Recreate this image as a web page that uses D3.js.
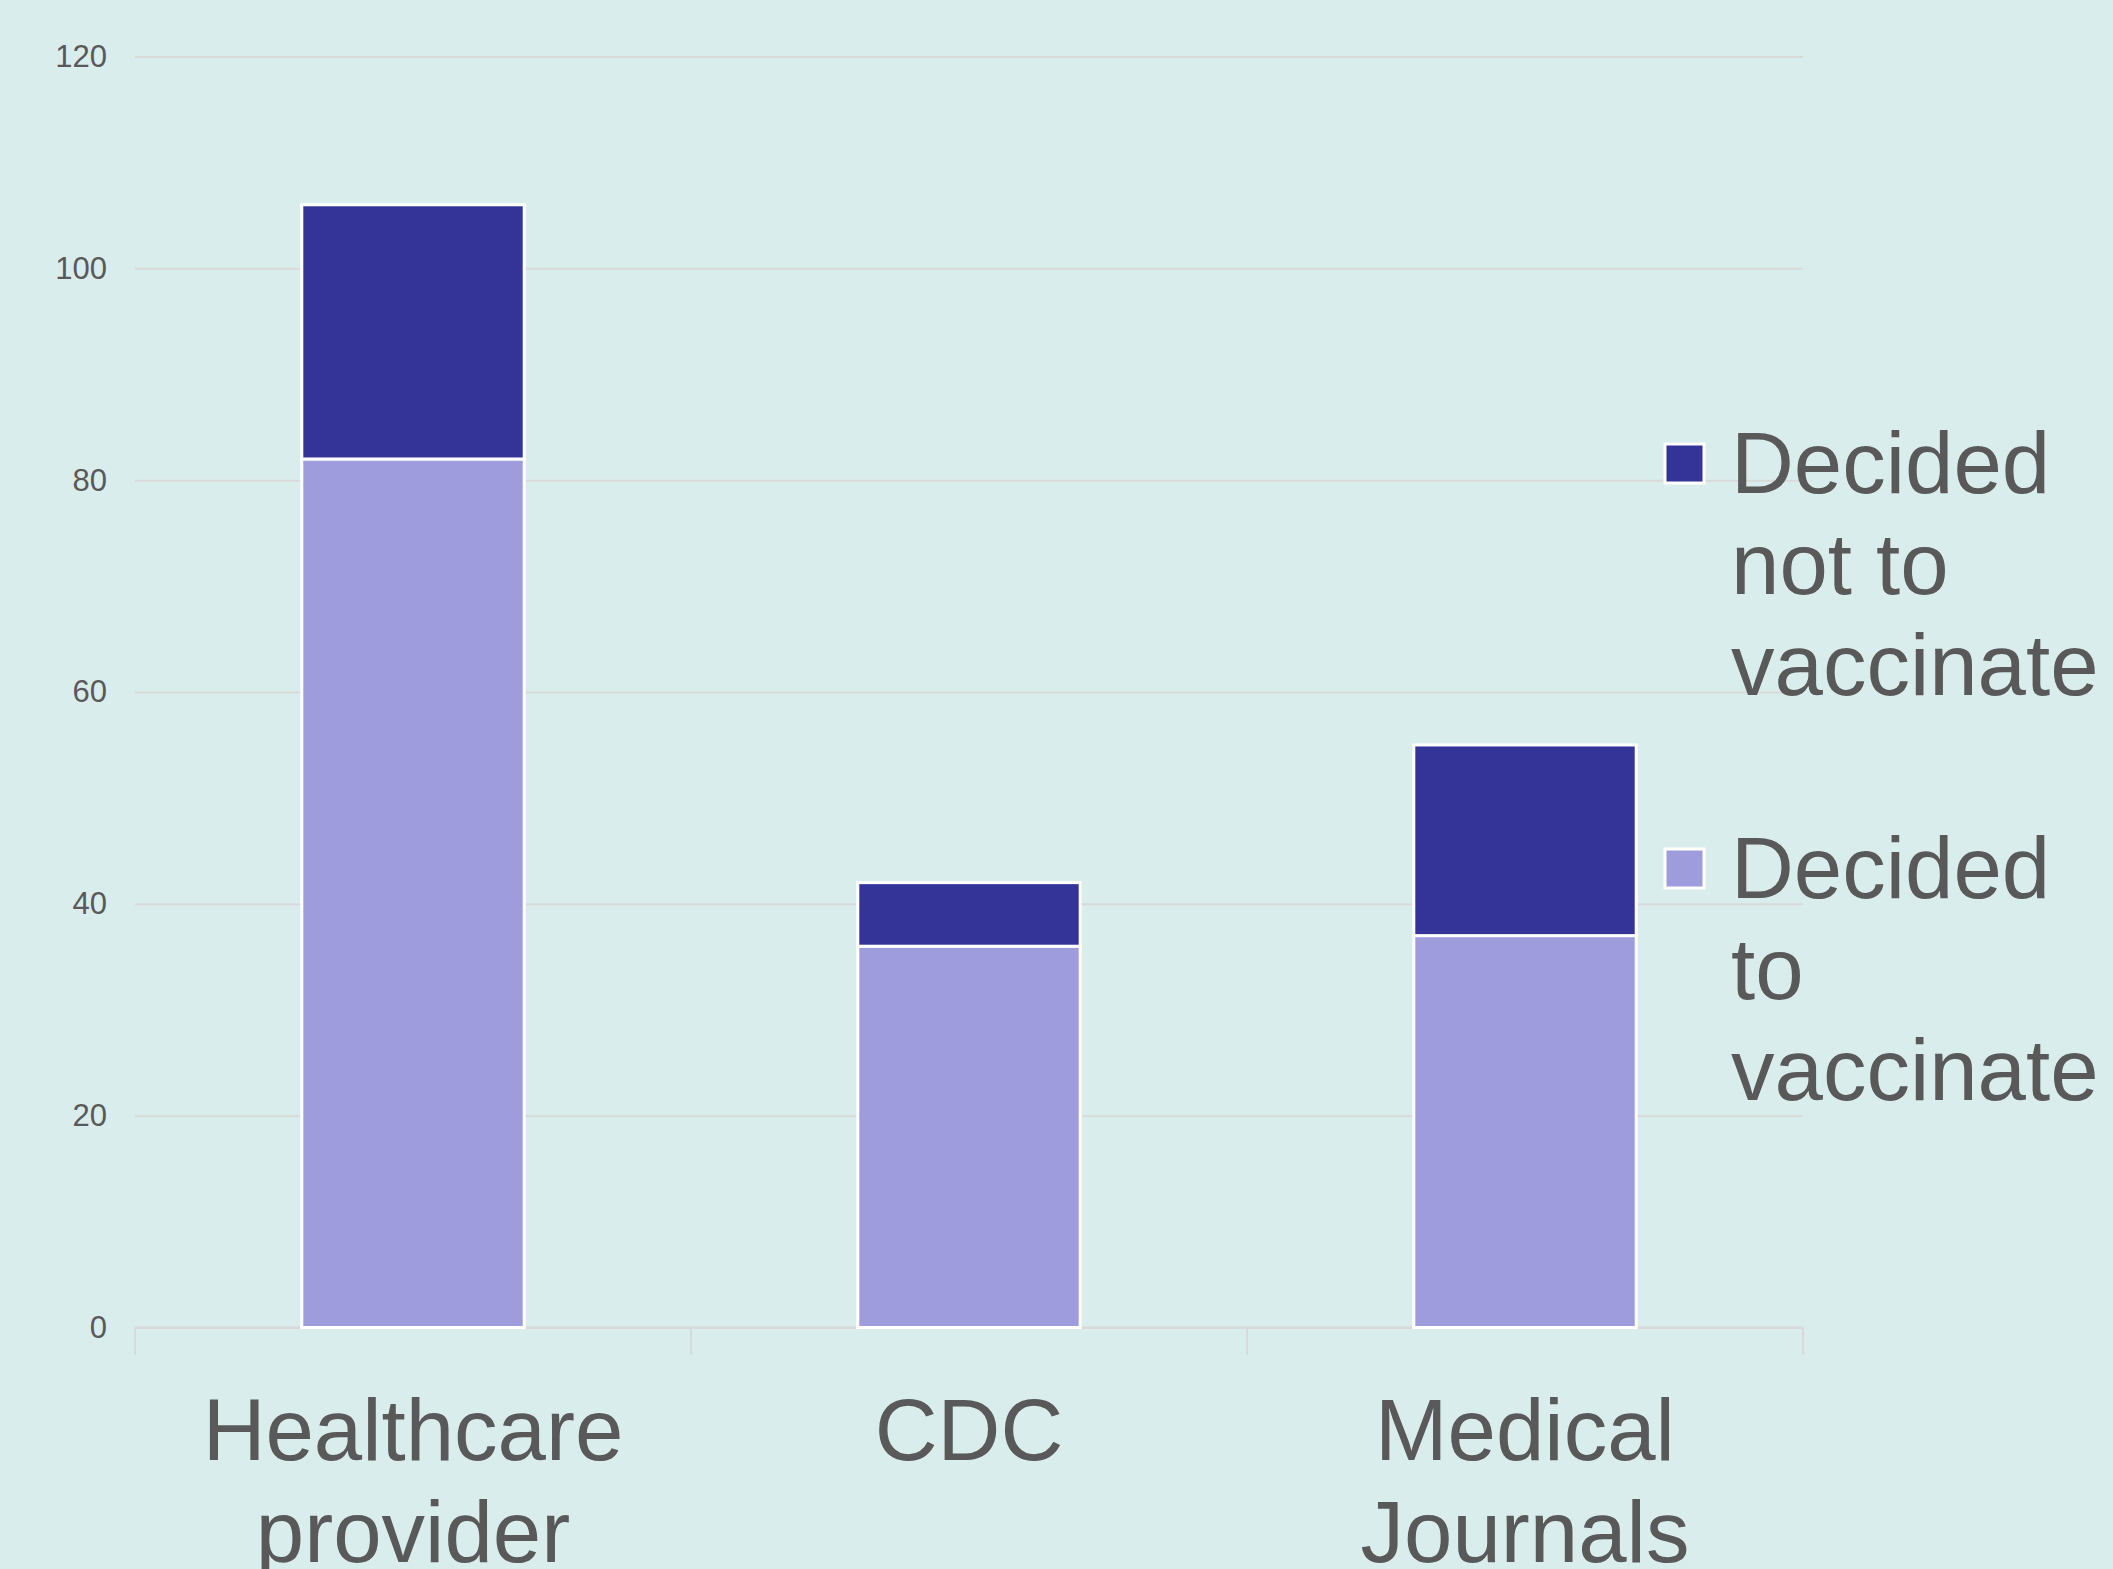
<!DOCTYPE html>
<html lang="en">
<head>
<meta charset="UTF-8">
<title>Vaccination decision by information source</title>
<script src="https://cdn.jsdelivr.net/npm/d3@7"></script>
<style>
  html, body { margin: 0; padding: 0; background: #daeded; }
  svg { display: block; font-family: "Liberation Sans", Arial, sans-serif; }
</style>
</head>
<body>
<script>
// data
var categories = [['Healthcare', 'provider'], ['CDC'], ['Medical', 'Journals']];
var seriesNames = ['Decided to vaccinate', 'Decided not to vaccinate'];
var decidedTo = [82, 36, 37];
var decidedNot = [24, 6, 18];
var yTicks = [0, 20, 40, 60, 80, 100, 120];
var colors = ['#9e9cdd', '#343398'];

var width = 2113, height = 1569;
var margin = { top: 56.5, right: 310, bottom: 241.5, left: 135 };
var plotW = width - margin.left - margin.right;
var plotH = height - margin.top - margin.bottom;

var svg = d3.select('body').append('svg')
    .attr('width', width)
    .attr('height', height);

svg.append('rect').attr('width', width).attr('height', height).attr('fill', '#daeded');

var keys = categories.map(function(c) { return c.join(' '); });
var rows = keys.map(function(k, i) {
    return { cat: k, to: decidedTo[i], not: decidedNot[i] };
});

var x = d3.scaleBand()
    .domain(keys)
    .range([margin.left, margin.left + plotW])
    .paddingInner(0.6)
    .paddingOuter(0.3);

var y = d3.scaleLinear()
    .domain([0, 120])
    .range([margin.top + plotH, margin.top]);

// gridlines
svg.append('g')
    .attr('transform', 'translate(' + margin.left + ',0)')
    .call(d3.axisLeft(y).tickValues(yTicks).tickSize(-plotW).tickFormat(''))
    .call(function(g) {
        g.select('.domain').remove();
        g.selectAll('line').attr('stroke', '#d9d9d9').attr('stroke-width', 2);
    });

// y tick labels
svg.append('g')
    .attr('transform', 'translate(' + margin.left + ',0)')
    .call(d3.axisLeft(y).tickValues(yTicks).tickSize(0).tickPadding(28))
    .call(function(g) {
        g.select('.domain').remove();
        g.selectAll('text')
            .attr('fill', '#595959')
            .attr('font-size', '31px')
            .attr('font-family', '"Liberation Sans", Arial, sans-serif');
    });

// x axis line and ticks between the categories
var y0 = y(0);
svg.append('line')
    .attr('x1', margin.left).attr('x2', margin.left + plotW)
    .attr('y1', y0).attr('y2', y0)
    .attr('stroke', '#d9d9d9').attr('stroke-width', 2);

var bounds = keys.map(function(k) { return x(k) - x.step() * x.paddingOuter(); });
bounds.push(margin.left + plotW);
svg.selectAll('.xtick')
    .data(bounds)
    .enter()
    .append('line')
    .attr('x1', function(d) { return d; })
    .attr('x2', function(d) { return d; })
    .attr('y1', y0)
    .attr('y2', y0 + 27)
    .attr('stroke', '#d9d9d9')
    .attr('stroke-width', 2);

// stacked bars
var stack = d3.stack().keys(['to', 'not']);
var layers = stack(rows);

svg.selectAll('.layer')
    .data(layers)
    .enter()
    .append('g')
    .attr('fill', function(d, i) { return colors[i]; })
    .selectAll('rect')
    .data(function(d) { return d; })
    .enter()
    .append('rect')
    .attr('x', function(d) { return x(d.data.cat); })
    .attr('y', function(d) { return y(d[1]); })
    .attr('width', x.bandwidth())
    .attr('height', function(d) { return y(d[0]) - y(d[1]); })
    .attr('stroke', '#ffffff')
    .attr('stroke-width', 3);

// category labels
var catLabels = svg.selectAll('.cat')
    .data(categories)
    .enter()
    .append('text')
    .attr('text-anchor', 'middle')
    .attr('fill', '#595959')
    .attr('font-size', '87px')
    .attr('x', function(d, i) { return x(keys[i]) + x.bandwidth() / 2; })
    .attr('y', 1460);

catLabels.selectAll('tspan')
    .data(function(d) { return d; })
    .enter()
    .append('tspan')
    .attr('x', function() { return d3.select(this.parentNode).attr('x'); })
    .attr('dy', function(d, i) { return i === 0 ? 0 : 102; })
    .text(function(d) { return d; });

// legend
var legendItems = [
    { lines: ['Decided', 'not to', 'vaccinate'], color: colors[1], top: 493 },
    { lines: ['Decided', 'to', 'vaccinate'], color: colors[0], top: 898 }
];

var legend = svg.selectAll('.legend')
    .data(legendItems)
    .enter()
    .append('g');

legend.append('rect')
    .attr('x', 1665)
    .attr('y', function(d) { return d.top - 49; })
    .attr('width', 39)
    .attr('height', 39)
    .attr('fill', function(d) { return d.color; })
    .attr('stroke', '#ffffff')
    .attr('stroke-width', 3);

legend.append('text')
    .attr('fill', '#595959')
    .attr('font-size', '87px')
    .attr('y', function(d) { return d.top; })
    .selectAll('tspan')
    .data(function(d) { return d.lines; })
    .enter()
    .append('tspan')
    .attr('x', 1731)
    .attr('dy', function(d, i) { return i === 0 ? 0 : 101; })
    .text(function(d) { return d; });
</script>
</body>
</html>
